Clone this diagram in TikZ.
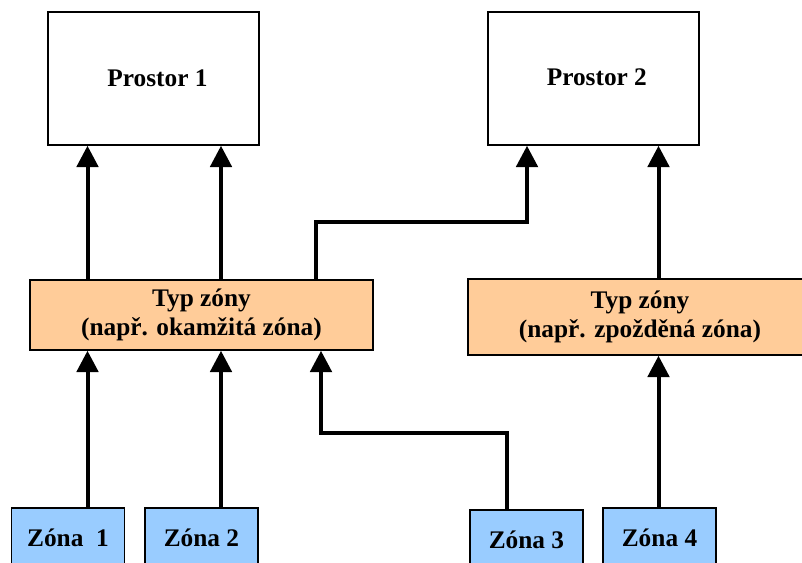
\documentclass[tikz,border=0pt]{standalone}
\usepackage{fontspec}
\setmainfont{Liberation Serif}
\usetikzlibrary{arrows.meta}
\definecolor{typfill}{RGB}{255,204,153}
\definecolor{zonefill}{RGB}{153,204,255}
\begin{document}
\begin{tikzpicture}[x=0.75pt,y=-0.75pt,
  every node/.style={font=\fontsize{19}{22}\selectfont\bfseries},
  box/.style={draw, line width=1.1pt, inner sep=0pt, align=center},
  space/.style={box, fill=white, minimum width=0.75*211pt, minimum height=0.75*133pt},
  typ/.style={box, fill=typfill},
  zone/.style={box, fill=zonefill, minimum width=0.75*113pt, minimum height=0.75*60pt},
  conn/.style={line width=3pt, -{Triangle[length=16pt,width=16pt]}}]
\useasboundingbox (0,0) rectangle (802,563);
\clip (0,0) rectangle (802,563);

% spaces
\node[space] (p1) at (153.5,78.5) {\hspace*{6pt}Prostor 1};
\node[space] (p2) at (593.5,78.5) {\hspace*{5pt}\raisebox{2pt}{Prostor 2}};

% zone types
\node[typ, minimum width=0.75*343pt, minimum height=0.75*70pt] (t1) at (201.5,315)
  {Typ zóny\\(např. okamžitá zóna)};
\node[typ, minimum width=0.75*344pt, minimum height=0.75*76pt] (t2) at (640,317)
  {Typ zóny\\(např. zpožděná zóna)};

% zones
\node[zone] (z1) at (68,538) {Zóna\ \ 1};
\node[zone] (z2) at (201.5,538) {Zóna 2};
\node[zone] (z3) at (526.5,540) {Zóna 3};
\node[zone] (z4) at (659.5,538) {Zóna 4};

% vertical lanes of the connectors
\coordinate (xa) at (87.5,0);
\coordinate (xb) at (221,0);
\coordinate (xc) at (316,0);
\coordinate (xd) at (321,0);
\coordinate (xe) at (507,0);
\coordinate (xf) at (527,0);
\coordinate (xg) at (658.5,0);
\coordinate (yup) at (0,222);
\coordinate (ylow) at (0,433);

% zone types to spaces
\draw[conn] (xa |- t1.north) -- (xa |- p1.south);
\draw[conn] (xb |- t1.north) -- (xb |- p1.south);
\draw[conn] (xc |- t1.north) -- (xc |- yup) -- (xf |- yup) -- (xf |- p2.south);
\draw[conn] (xg |- t2.north) -- (xg |- p2.south);

% zones to zone types
\draw[conn] (xa |- z1.north) -- (xa |- t1.south);
\draw[conn] (xb |- z2.north) -- (xb |- t1.south);
\draw[conn] (xe |- z3.north) -- (xe |- ylow) -- (xd |- ylow) -- (xd |- t1.south);
\draw[conn] (xg |- z4.north) -- (xg |- t2.south);
\end{tikzpicture}
\end{document}
